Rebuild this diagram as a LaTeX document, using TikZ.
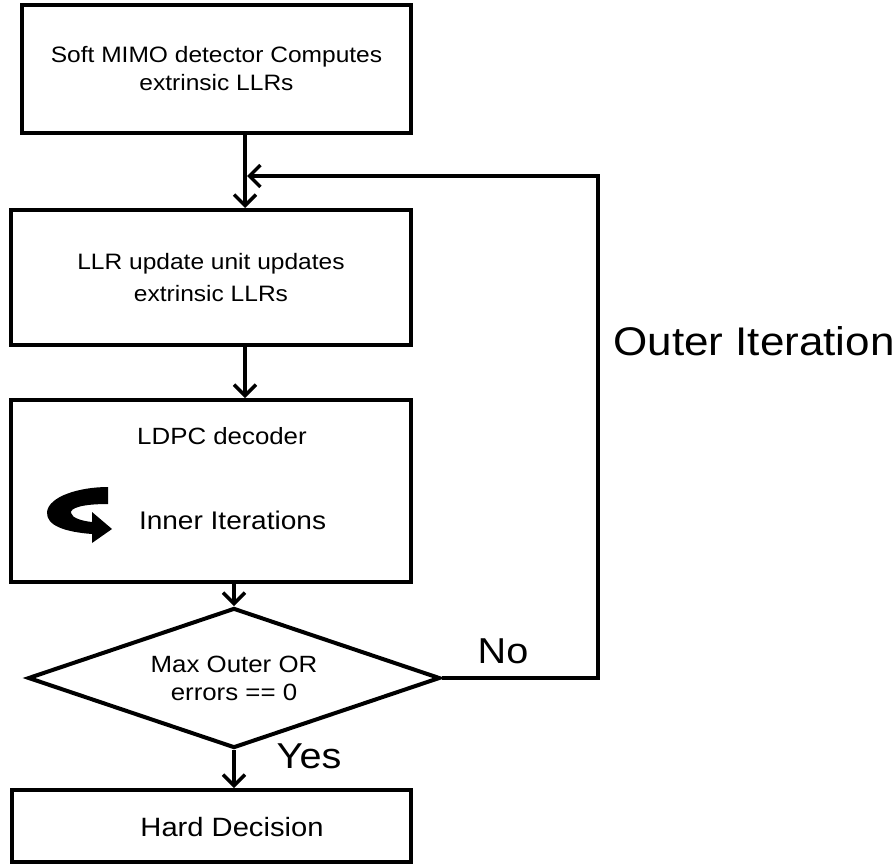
\documentclass[tikz,border=0pt]{standalone}
\usepackage{fontspec}
\setmainfont{Liberation Sans}[FakeStretch=1.1]
\usetikzlibrary{arrows.meta,shapes.geometric}
\newcommand{\fsz}[2]{\fontsize{#1}{#2}\selectfont}
\begin{document}
\begin{tikzpicture}[x=1pt,y=-1pt,
  line width=4pt,
  stepbox/.style={draw,rectangle,inner sep=0pt,align=center,font=\fsz{22.3}{32}},
  flow/.style={-{Straight Barb[length=11pt,width=22pt,line width=3.5pt]}},
  lbl/.style={inner sep=0pt}]
\useasboundingbox (0,0) rectangle (896,867);

% process boxes
\node[stepbox,minimum width=389pt,minimum height=128pt,font=\fsz{22.3}{28}] (det) at (216.5,69)
  {Soft MIMO detector Computes\\extrinsic LLRs};
\node[stepbox,minimum width=400pt,minimum height=135pt] (llr) at (211,277.5)
  {LLR update unit updates\\extrinsic LLRs};
\node[stepbox,minimum width=400pt,minimum height=182pt] (ldpc) at (211,491) {};
\node[lbl,font=\fsz{23.5}{28}] (ldpct) at (222,436) {LDPC decoder};
\node[lbl,font=\fsz{25.5}{30},anchor=west] (inner) at (137,520) {Inner Iterations};

% decision and final box
\node[draw,diamond,aspect=3,inner sep=0pt,minimum width=412pt,minimum height=140pt,
  align=center,font=\fsz{23.5}{28}] (dec) at (234,678) {Max Outer OR\\errors == 0};
\node[stepbox,minimum width=399pt,minimum height=72pt] (hard) at (211.5,826) {};
\node[lbl,font=\fsz{26.5}{30}] (hardt) at (232,827) {Hard Decision};

% inner iteration icon
\fill (108,487) -- (108,504) .. controls (82,504) and (70,508) .. (71,513)
  .. controls (72,518) and (82,521) .. (92,522) -- (92,512) -- (112,529)
  -- (92,543) -- (92,534) .. controls (66,532) and (46,526) .. (47,512)
  .. controls (49,496) and (80,487) .. (108,487) -- cycle;

% connectors
\coordinate (axisA) at (245,0);
\coordinate (loopR) at (598,678);
\coordinate (loopT) at (598,176);
\coordinate (join) at (247,176);
\draw[flow] (det.south -| axisA) -- (llr.north -| axisA);
\draw[flow] (llr.south -| axisA) -- (ldpc.north -| axisA);
\draw[flow] (ldpc.south -| dec.north) -- (dec.north);
\draw[flow] (dec.south) -- (hard.north -| dec.south);
\draw[flow] (dec.east) -- (loopR) -- (loopT) -- (join);

% labels
\node[lbl,font=\fsz{36}{40}] (no) at (503,651) {No};
\node[lbl,font=\fsz{36}{40}] (yes) at (309,756) {Yes};
\node[lbl,font=\fsz{40}{44}] (outer) at (754,341) {Outer Iteration};
\end{tikzpicture}
\end{document}
